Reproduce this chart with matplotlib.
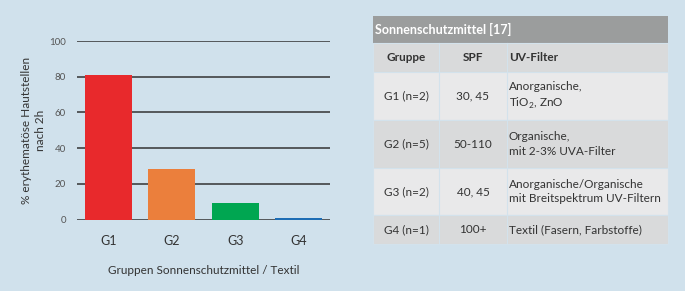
import matplotlib.pyplot as plt
from matplotlib.patches import Rectangle

plt.rcParams['font.family'] = ['Lato', 'DejaVu Sans']
plt.rcParams['mathtext.fontset'] = 'custom'
plt.rcParams['mathtext.rm'] = 'Lato'

# chart data
groups = ['G1', 'G2', 'G3', 'G4']
values = [81, 28.5, 9.5, 1]
bar_colors = ['#e8292c', '#eb7f3c', '#00a651', '#1e6db4']
y_ticks = [0, 20, 40, 60, 80, 100]

# table data
table_title = 'Sonnenschutzmittel [17]'
col_heads = ['Gruppe', 'SPF', 'UV-Filter']
col_gruppe = ['G1 (n=2)', 'G2 (n=5)', 'G3 (n=2)', 'G4 (n=1)']
col_spf = ['30, 45', '50-110', '40, 45', '100+']
col_filter = ['Anorganische,\nTiO$_2$, ZnO',
              'Organische,\nmit 2-3% UVA-Filter',
              'Anorganische/Organische\nmit Breitspektrum UV-Filtern',
              'Textil (Fasern, Farbstoffe)']

bg = '#d0e1ec'
W, H = 685, 291
fig = plt.figure(figsize=(W / 100, H / 100), dpi=100, facecolor=bg)

# ---- bar chart ----
ax = fig.add_axes([77 / W, (H - 219.7) / H, (330 - 77) / W, (219.7 - 41) / H])
ax.set_facecolor(bg)
ax.bar(range(len(groups)), values, width=0.74, color=bar_colors, zorder=3)
ax.set_ylim(0, 100)
ax.set_xlim(-0.5, 3.5)
ax.set_yticks(y_ticks)
for t in y_ticks:
    ax.axhline(t, color='#333333', lw=1.1, zorder=2)
for s in ax.spines.values():
    s.set_visible(False)
ax.tick_params(axis='y', length=0, labelsize=7, labelcolor='#555555', pad=8)
ax.tick_params(axis='x', length=0, labelsize=9, labelcolor='#333333', pad=11)
ax.set_xticks(range(len(groups)))
ax.set_xticklabels(groups)
ax.set_ylabel('% erythematöse Hautstellen\nnach 2h', fontsize=8.5, color='#333333',
              labelpad=2, linespacing=1.35)
ax.set_xlabel('Gruppen Sonnenschutzmittel / Textil', fontsize=8.5, color='#333333',
              labelpad=13)

# ---- table ----
tx = fig.add_axes([0, 0, 1, 1])
tx.set_xlim(0, W)
tx.set_ylim(H, 0)
tx.axis('off')

left, right = 373, 668
cols = [373, 439, 507, 668]
rows = [43, 72, 120, 168, 215, 244]
row_fill = ['#d9dadb', '#e9e9ea', '#d9dadb', '#e9e9ea', '#d9dadb']
line = '#d3e2ec'

tx.add_patch(Rectangle((left, 16), right - left, 27, color='#9b9d9d', lw=0))
tx.text(left + 2, 29.5, table_title, color='white', fontsize=9,
        fontweight='bold', va='center', ha='left')

for r in range(5):
    tx.add_patch(Rectangle((left, rows[r]), right - left, rows[r + 1] - rows[r],
                           facecolor=row_fill[r], edgecolor=line, lw=0.8))
for c in cols[1:-1]:
    tx.plot([c, c], [rows[0], rows[-1]], color=line, lw=0.8)

cy = [(rows[i] + rows[i + 1]) / 2 for i in range(5)]
tx.text((cols[0] + cols[1]) / 2, cy[0], col_heads[0], fontsize=8.5, fontweight='bold',
        ha='center', va='center', color='#333333')
tx.text((cols[1] + cols[2]) / 2, cy[0], col_heads[1], fontsize=8.5, fontweight='bold',
        ha='center', va='center', color='#333333')
tx.text(cols[2] + 2, cy[0], col_heads[2], fontsize=8.5, fontweight='bold',
        ha='left', va='center', color='#333333')

for i in range(4):
    y = cy[i + 1]
    tx.text((cols[0] + cols[1]) / 2, y, col_gruppe[i], fontsize=8.5,
            ha='center', va='center', color='#333333')
    tx.text((cols[1] + cols[2]) / 2, y, col_spf[i], fontsize=8.5,
            ha='center', va='center', color='#333333')
    tx.text(cols[2] + 2, y, col_filter[i], fontsize=8.5, ha='left', va='center',
            color='#333333', linespacing=1.35)

fig.savefig('out.png', dpi=100, facecolor=bg)
